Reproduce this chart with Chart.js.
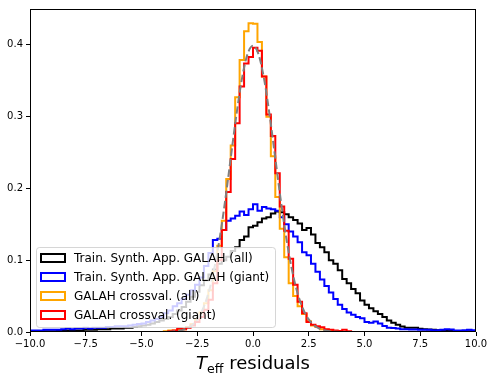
<!DOCTYPE html>
<html>
<head>
<meta charset="utf-8">
<script src="https://cdn.jsdelivr.net/npm/chart.js@4.4.1/dist/chart.umd.min.js"></script>
<style>
  html, body { margin: 0; padding: 0; background: #fff; }
  #wrap { width: 494px; height: 382px; }
</style>
</head>
<body>
<div id="wrap"><canvas id="teffChart" width="494" height="382"></canvas></div>
<script>
// histogram bins: 100 bins of 0.2 from -10 to 10
var binStart = -10;
var binWidth = 0.2;

var labels = ["Train. Synth. App. GALAH (all)", "Train. Synth. App. GALAH (giant)", "GALAH crossval. (all)", "GALAH crossval. (giant)"];
var colors = ["#000000", "#0000ff", "#ffa500", "#ff0000"];

var trainAll = [
    0.0005,0.0005,0.001,0.001,0.001,0.001,0.0015,0.0015,0.002,0.002,
    0.002,0.002,0.003,0.003,0.003,0.004,0.004,0.004,0.005,0.005,
    0.005,0.006,0.006,0.007,0.008,0.009,0.010,0.012,0.014,0.016,
    0.018,0.021,0.025,0.030,0.035,0.042,0.049,0.056,0.065,0.072,
    0.080,0.087,0.095,0.100,0.105,0.113,0.118,0.128,0.133,0.146,
    0.148,0.153,0.158,0.160,0.165,0.168,0.167,0.164,0.160,0.156,
    0.151,0.142,0.145,0.136,0.124,0.118,0.111,0.100,0.095,0.086,
    0.074,0.068,0.060,0.054,0.044,0.038,0.033,0.029,0.025,0.021,
    0.016,0.013,0.010,0.0075,0.006,0.006,0.006,0.0045,0.004,0.0035,
    0.003,0.0025,0.002,0.002,0.0015,0.0015,0.001,0.001,0.001,0.001
];
var trainGiant = [
    0.002,0.002,0.002,0.003,0.003,0.003,0.003,0.004,0.005,0.004,
    0.005,0.005,0.006,0.005,0.006,0.006,0.006,0.007,0.007,0.008,
    0.008,0.008,0.009,0.010,0.011,0.012,0.014,0.016,0.018,0.021,
    0.026,0.030,0.036,0.040,0.046,0.052,0.058,0.066,0.076,0.092,
    0.110,0.128,0.130,0.142,0.155,0.158,0.162,0.168,0.163,0.171,
    0.178,0.169,0.174,0.172,0.171,0.169,0.160,0.150,0.140,0.133,
    0.125,0.111,0.107,0.095,0.084,0.073,0.064,0.055,0.046,0.038,
    0.032,0.027,0.024,0.021,0.019,0.014,0.013,0.0145,0.012,0.0085,
    0.006,0.0055,0.005,0.004,0.004,0.0035,0.0035,0.003,0.003,0.003,
    0.0025,0.0025,0.003,0.004,0.0035,0.002,0.002,0.0025,0.003,0.0025
];
var crossAll = [
    0,0,0,0,0,0,0,0,0,0,
    0,0,0,0,0,0,0,0,0,0,
    0,0,0,0,0,0,0,0,0,0,
    0.001,0.002,0.002,0.003,0.004,0.007,0.011,0.018,0.027,0.040,
    0.058,0.085,0.120,0.155,0.213,0.260,0.327,0.379,0.419,0.430,
    0.4295,0.404,0.356,0.300,0.245,0.188,0.144,0.104,0.068,0.050,
    0.036,0.025,0.015,0.009,0.007,0.004,0.003,0.002,0.001,0.001,
    0,0,0,0,0,0,0,0,0,0,
    0,0,0,0,0,0,0,0,0,0,
    0,0,0,0,0,0,0,0,0,0
];
var crossGiant = [
    0,0,0,0,0,0,0,0,0,0,
    0,0,0,0,0,0,0,0,0,0,
    0,0,0,0,0,0,0,0,0,0,
    0.000,0.001,0.002,0.005,0.004,0.006,0.009,0.014,0.021,0.031,
    0.045,0.068,0.100,0.142,0.195,0.241,0.291,0.342,0.374,0.383,
    0.396,0.392,0.356,0.303,0.273,0.221,0.175,0.141,0.102,0.066,
    0.042,0.026,0.014,0.010,0.008,0.0065,0.004,0.003,0.002,0.0015,
    0.003,0.001,0,0,0,0,0,0,0,0,
    0,0,0,0,0,0,0,0,0,0,
    0,0,0,0,0,0,0,0,0,0
];

// dashed reference curve
var curveX = [-10,-5,-4.5,-4,-3.75,-3.5,-3.25,-3,-2.75,-2.5,-2.25,-2,-1.75,-1.5,-1.25,-1,-0.75,-0.5,-0.25,0,
              0.25,0.5,0.75,1,1.25,1.5,1.75,2,2.25,2.5,2.75,3,3.25,3.5,3.75,4,4.5,5,10];
var curveY = [0,0,0,0.0001,0.0004,0.0009,0.002,0.0044,0.0091,0.0175,0.0317,0.054,0.0863,0.1295,0.1826,0.242,0.3011,0.3521,0.3867,0.3989,
              0.3867,0.3521,0.3011,0.242,0.1826,0.1295,0.0863,0.054,0.0317,0.0175,0.0091,0.0044,0.002,0.0009,0.0004,0.0001,0,0,0];

var xTicks = [-10, -7.5, -5, -2.5, 0, 2.5, 5, 7.5, 10];
var yTicks = [0, 0.1, 0.2, 0.3, 0.4];

function stepPoints(vals) {
    var pts = [];
    for (var i = 0; i < vals.length; i++) {
        pts.push({x: binStart + i * binWidth, y: vals[i]});
    }
    pts.push({x: binStart + vals.length * binWidth, y: vals[vals.length - 1]});
    return pts;
}

function fmt(v) {
    return v.toFixed(1).replace("-", "\u2212");
}

var curvePts = [];
for (var k = 0; k < curveX.length; k++) {
    curvePts.push({x: curveX[k], y: curveY[k]});
}

var histSets = [trainAll, trainGiant, crossAll, crossGiant];
var datasets = [];
for (var j = 0; j < histSets.length; j++) {
    datasets.push({
        label: labels[j],
        data: stepPoints(histSets[j]),
        borderColor: colors[j],
        borderWidth: 2,
        stepped: "before",   // value i holds over [edge i, edge i+1]
        fill: false,
        pointRadius: 0,
        clip: 0,
        order: 4 - j
    });
}
datasets.push({
    label: "gauss",
    data: curvePts,
    borderColor: "#808080",
    borderWidth: 2,
    borderDash: [7.4, 3.2],
    cubicInterpolationMode: "monotone",
    fill: false,
    pointRadius: 0,
    clip: 0,
    order: 0
});

var FONT = "'DejaVu Sans', sans-serif";

var extras = {
    id: "extras",
    afterDraw: function (chart) {
        var c = chart.ctx;
        var a = chart.chartArea;
        c.save();
        // frame
        c.strokeStyle = "#000";
        c.lineWidth = 1;
        c.strokeRect(Math.round(a.left) + 0.5, Math.round(a.top) + 0.5,
                     Math.round(a.right - a.left) - 1, Math.round(a.bottom - a.top) - 1);

        // legend box
        var bx = 36.5, by = 247.5, bw = 239, bh = 80, r = 3;
        c.beginPath();
        c.moveTo(bx + r, by);
        c.arcTo(bx + bw, by, bx + bw, by + bh, r);
        c.arcTo(bx + bw, by + bh, bx, by + bh, r);
        c.arcTo(bx, by + bh, bx, by, r);
        c.arcTo(bx, by, bx + bw, by, r);
        c.closePath();
        c.fillStyle = "rgba(255,255,255,0.8)";
        c.fill();
        c.strokeStyle = "rgba(204,204,204,0.8)";
        c.lineWidth = 1;
        c.stroke();

        c.font = "12px " + FONT;
        c.textBaseline = "middle";
        c.textAlign = "left";
        for (var i = 0; i < labels.length; i++) {
            var yy = 258 + i * 19;
            c.strokeStyle = colors[i];
            c.lineWidth = 2;
            c.strokeRect(41, yy - 4, 24, 8);
            c.fillStyle = "#000";
            c.fillText(labels[i], 74, yy + 0.5);
        }

        // x label: T_eff residuals
        var big = "18px " + FONT;
        var sub = "12.6px " + FONT;
        c.font = "italic " + big;
        var wT = c.measureText("T").width;
        c.font = sub;
        var wS = c.measureText("eff").width;
        c.font = big;
        var wR = c.measureText(" residuals").width;
        var x0 = (a.left + a.right) / 2 - (wT + wS + wR) / 2;
        var base = 369;
        c.textBaseline = "alphabetic";
        c.fillStyle = "#000";
        c.font = "italic " + big;
        c.fillText("T", x0, base);
        c.font = sub;
        c.fillText("eff", x0 + wT, base + 3.5);
        c.font = big;
        c.fillText(" residuals", x0 + wT + wS, base);
        c.restore();
    }
};

var ctx = document.getElementById("teffChart");
var teffChart = new Chart(ctx, {
    type: "line",
    data: { datasets: datasets },
    options: {
        responsive: false,
        animation: false,
        devicePixelRatio: 1,
        layout: { padding: { top: 7, right: 18, left: 0, bottom: 0 } },
        plugins: { legend: { display: false }, tooltip: { enabled: false } },
        scales: {
            x: {
                type: "linear",
                min: -10,
                max: 10,
                afterBuildTicks: function (s) {
                    s.ticks = xTicks.map(function (v) { return {value: v}; });
                },
                ticks: {
                    autoSkip: false,
                    maxRotation: 0,
                    padding: 2,
                    color: "#000",
                    font: { family: FONT, size: 10 },
                    callback: function (v) { return fmt(v); }
                },
                grid: { drawOnChartArea: false, tickLength: 4, color: "#000", tickWidth: 1 },
                border: { display: false },
                afterFit: function (s) { s.height = 50; }
            },
            y: {
                min: 0,
                max: 0.45,
                afterBuildTicks: function (s) {
                    s.ticks = yTicks.map(function (v) { return {value: v}; });
                },
                ticks: {
                    padding: 3,
                    color: "#000",
                    font: { family: FONT, size: 10 },
                    callback: function (v) { return fmt(v); }
                },
                grid: { drawOnChartArea: false, tickLength: 4, color: "#000", tickWidth: 1 },
                border: { display: false },
                afterFit: function (s) { s.width = 30; }
            }
        }
    },
    plugins: [extras]
});
</script>
</body>
</html>
